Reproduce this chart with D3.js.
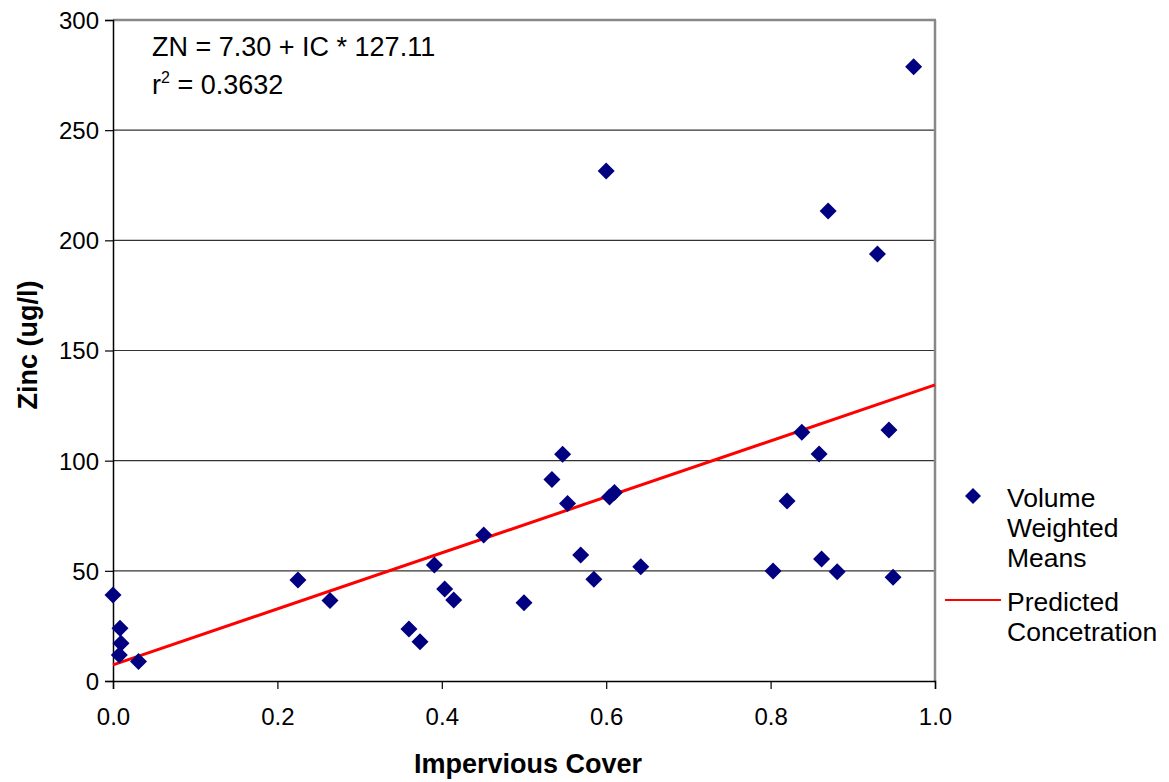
<!DOCTYPE html>
<html><head><meta charset="utf-8">
<script src="https://cdn.jsdelivr.net/npm/d3@7"></script>
<style>body{margin:0;background:#fff}svg{display:block;font-family:Arial,"Liberation Sans",sans-serif}</style>
</head><body>
<svg id="c" width="1169" height="782"></svg>
<script>
const impervious = [0.000,0.0085,0.0097,0.0077,0.031,0.225,0.264,0.360,0.3735,0.391,0.4035,0.4145,0.451,0.500,0.534,0.547,0.553,0.569,0.585,0.600,0.604,0.610,0.642,0.803,0.820,0.838,0.859,0.862,0.870,0.881,0.930,0.944,0.949,0.974];
const zinc       = [39.0,23.9,17.1,11.8,8.8,45.8,36.5,23.6,17.8,52.6,41.8,36.8,66.3,35.5,91.5,102.9,80.6,57.2,46.2,231.5,83.5,85.5,51.9,49.9,81.7,112.9,103.0,55.4,213.3,49.6,193.8,113.9,47.1,278.8];
const intercept = 7.30, slope = 127.11;
const xTicks = [0,0.2,0.4,0.6,0.8,1.0];
const yTicks = [0,50,100,150,200,250,300];
const legendLabels = [["Volume","Weighted","Means"],["Predicted","Concetration"]];
const equationText = "ZN = 7.30 + IC * 127.11";
const r2Value = "0.3632";

const svg = d3.select("#c");
const L=113, R=935, T=20, B=681;
const x = d3.scaleLinear().domain([0,1]).range([L,R]);
const y = d3.scaleLinear().domain([0,300]).range([B,T]);

// gridlines
svg.append("g").selectAll("line").data(yTicks.filter(d=>d>0 && d<300)).join("line")
  .attr("x1",L).attr("x2",R).attr("y1",d=>y(d)).attr("y2",d=>y(d))
  .attr("stroke","#333").attr("stroke-width",1.2);

// plot frame top/right gray
svg.append("line").attr("x1",L).attr("x2",R+1).attr("y1",T).attr("y2",T).attr("stroke","#888").attr("stroke-width",2.5);
svg.append("line").attr("x1",R).attr("x2",R).attr("y1",T).attr("y2",B).attr("stroke","#888").attr("stroke-width",2.5);

// axes
const xAxis = svg.append("g").attr("transform",`translate(0,${B})`)
  .call(d3.axisBottom(x).tickValues(xTicks).tickFormat(d3.format(".1f")).tickSize(8).tickPadding(19));
const yAxis = svg.append("g").attr("transform",`translate(${L},0)`)
  .call(d3.axisLeft(y).tickValues(yTicks).tickSize(8).tickPadding(6));
[xAxis,yAxis].forEach(g=>{
  g.select(".domain").attr("stroke","#000").attr("stroke-width",1.5);
  g.selectAll(".tick line").attr("stroke","#000").attr("stroke-width",1.2);
  g.selectAll("text").attr("font-size",24).attr("fill","#000").attr("font-family","Arial,'Liberation Sans',sans-serif");
});
yAxis.selectAll("text").attr("dy","0.35em");

// regression line
svg.append("line")
  .attr("x1",x(0)).attr("y1",y(intercept))
  .attr("x2",x(1)).attr("y2",y(intercept+slope))
  .attr("stroke","#ff0000").attr("stroke-width",3);

// points
const diamond = s => `M0,${-s}L${s},0L0,${s}L${-s},0Z`;
svg.append("g").selectAll("path").data(impervious.map((v,i)=>[v,zinc[i]])).join("path")
  .attr("d",diamond(8.5))
  .attr("transform",d=>`translate(${x(d[0])},${y(d[1])})`)
  .attr("fill","#000080");

// annotation
svg.append("text").attr("x",152).attr("y",56).attr("font-size",27).text(equationText);
const r2 = svg.append("text").attr("x",152).attr("y",94).attr("font-size",27);
r2.append("tspan").text("r");
r2.append("tspan").attr("dy",-11).attr("font-size",16).text("2");
r2.append("tspan").attr("dy",11).text(" = "+r2Value);

// axis titles
svg.append("text").attr("x",528).attr("y",773).attr("text-anchor","middle")
  .attr("font-size",27).attr("font-weight","bold").text("Impervious Cover");
svg.append("text").attr("transform","translate(37,345) rotate(-90)").attr("text-anchor","middle")
  .attr("font-size",27).attr("font-weight","bold").text("Zinc (ug/l)");

// legend
const lg = svg.append("g");
lg.append("path").attr("d",diamond(8)).attr("transform","translate(973,496)").attr("fill","#000080");
lg.append("text").attr("x",1007).attr("y",507).attr("font-size",26.5)
  .selectAll("tspan").data(legendLabels[0]).join("tspan").attr("x",1007).attr("dy",(d,i)=>i?30:0).text(d=>d);
lg.append("line").attr("x1",945).attr("x2",1001).attr("y1",600).attr("y2",600).attr("stroke","#ff0000").attr("stroke-width",2);
lg.append("text").attr("x",1007).attr("y",611).attr("font-size",26.5)
  .selectAll("tspan").data(legendLabels[1]).join("tspan").attr("x",1007).attr("dy",(d,i)=>i?30:0).text(d=>d);
</script>
</body></html>
